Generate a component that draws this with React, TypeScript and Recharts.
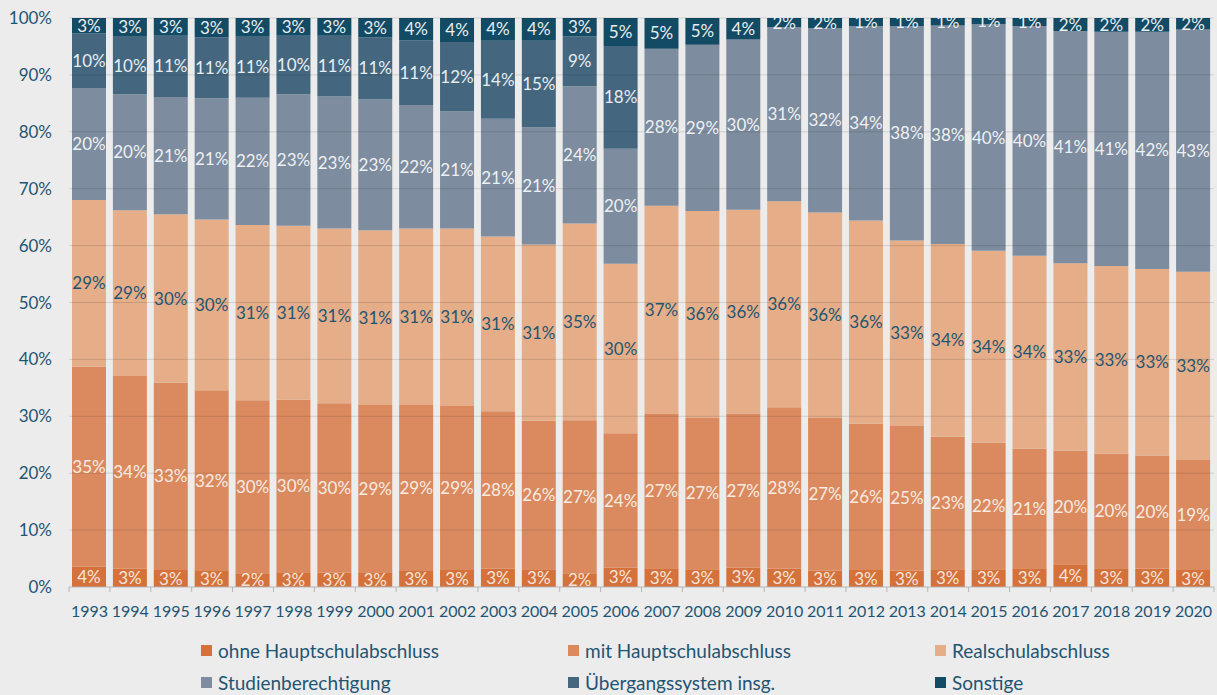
import React from 'react';
import { BarChart, Bar, XAxis, YAxis, LabelList, Legend, ReferenceLine } from 'recharts';

const years = ['1993','1994','1995','1996','1997','1998','1999','2000','2001','2002','2003','2004','2005','2006','2007','2008','2009','2010','2011','2012','2013','2014','2015','2016','2017','2018','2019','2020'];

const ohneHauptschul = [3.6,3.2,3.0,2.8,2.4,2.6,2.5,2.6,2.8,3.0,3.2,3.1,2.4,3.4,3.3,3.1,3.4,3.2,2.9,3.0,2.9,3.1,3.1,3.3,4.0,3.3,3.2,3.0];
const mitHauptschul = [35.1,33.9,32.9,31.8,30.4,30.3,29.8,29.4,29.2,28.8,27.7,26.1,26.9,23.6,27.1,26.7,27.1,28.4,26.9,25.7,25.4,23.3,22.3,21.0,20.0,20.1,19.9,19.3];
const realschul = [29.3,29.1,29.6,30.0,30.8,30.6,30.7,30.7,31.0,31.2,30.7,31.0,34.6,29.8,36.6,36.3,35.8,36.2,36.0,35.7,32.6,33.9,33.7,33.9,32.9,33.0,32.8,33.1];
const studien = [19.7,20.4,20.6,21.3,22.4,23.1,23.2,23.0,21.7,20.6,20.7,20.6,24.1,20.2,27.6,29.2,29.9,30.6,32.4,34.2,37.7,38.4,39.8,40.4,40.8,41.2,41.7,42.6];
const uebergang = [9.6,10.1,10.8,10.7,10.7,10.3,10.7,10.9,11.4,12.2,13.7,15.2,8.8,18.1,null,null,null,null,null,null,null,null,null,null,null,null,null,null];
const sonstige = [2.7,3.3,3.1,3.4,3.3,3.1,3.1,3.4,3.9,4.2,4.0,4.0,3.2,4.9,5.4,4.7,3.8,1.6,1.8,1.4,1.4,1.3,1.1,1.4,2.3,2.4,2.4,2.0];

const yTicks = [0,10,20,30,40,50,60,70,80,90,100];
const gridLines = [10,20,30,40,50,60,70,80,90,100];

const series = [
  { key: 'ohne', name: 'ohne Hauptschulabschluss', color: '#d5713a', text: '#f6e6db', values: ohneHauptschul },
  { key: 'mit', name: 'mit Hauptschulabschluss', color: '#db8a5f', text: '#f7ebe2', values: mitHauptschul },
  { key: 'real', name: 'Realschulabschluss', color: '#e5ae88', text: '#1f5573', values: realschul },
  { key: 'studien', name: 'Studienberechtigung', color: '#7d8c9e', text: '#eef1f4', values: studien },
  { key: 'ueber', name: 'Übergangssystem insg.', color: '#44677f', text: '#e8edf1', values: uebergang },
  { key: 'sonst', name: 'Sonstige', color: '#134a64', text: '#e8eef2', values: sonstige },
];

const data = years.map((year, i) => {
  const row: any = { year };
  series.forEach((s) => { row[s.key] = s.values[i]; });
  return row;
});

const FONT = 'Lato, "Noto Sans", sans-serif';
const TEXT = '#1f5573';

const XTick = (props: any) => {
  const { x, y, payload, index, visibleTicksCount } = props;
  const off = payload.offset || 0;
  return (
    <g>
      <line x1={x - off} x2={x - off} y1={y} y2={y + 5} stroke="#b5b5b5" />
      {index === visibleTicksCount - 1 && (
        <line x1={x + off} x2={x + off} y1={y} y2={y + 5} stroke="#b5b5b5" />
      )}
      <text x={x} y={y + 30} textAnchor="middle" fill={TEXT} fontSize={16} fontFamily={FONT}>
        {payload.value}
      </text>
    </g>
  );
};

const LegendContent = () => (
  <div style={{ position: 'relative', height: 68, fontFamily: FONT }}>
    {series.map((s, i) => {
      const col = i % 3;
      const row = Math.floor(i / 3);
      return (
        <div
          key={s.key}
          style={{
            position: 'absolute',
            left: 201 + col * 367,
            top: 2 + row * 32,
            height: 32,
            display: 'flex',
            alignItems: 'center',
            color: TEXT,
            fontSize: 19,
            whiteSpace: 'nowrap',
          }}
        >
          <span style={{ display: 'inline-block', width: 11, height: 11, background: s.color, marginRight: 6 }} />
          {s.name}
        </div>
      );
    })}
  </div>
);

export default function App() {
  return (
    <div style={{ position: 'absolute', left: 0, top: 0, width: 1217, height: 695, background: '#ececec', overflow: 'hidden' }}>
      <BarChart width={1217} height={695} data={data} margin={{ top: 18, right: 3, left: 7, bottom: 10 }} barSize={34}>
        <XAxis
          dataKey="year"
          interval={0}
          axisLine={{ stroke: '#b5b5b5' }}
          tickLine={false}
          tickSize={0}
          tickMargin={0}
          height={30}
          tick={<XTick />}
        />
        <YAxis
          domain={[0, 100]}
          ticks={yTicks}
          tickFormatter={(v: number) => `${v}%`}
          axisLine={false}
          tickLine={false}
          tickSize={6}
          tickMargin={11}
          width={62}
          tick={{ fill: TEXT, fontSize: 17, fontFamily: FONT }}
        />
        {series.map((s) => (
          <Bar key={s.key} dataKey={s.key} name={s.name} stackId="a" fill={s.color} isAnimationActive={false}>
            <LabelList
              dataKey={s.key}
              position="center"
              formatter={(v: any) => (v ? `${Math.round(v)}%` : '')}
              fill={s.text}
              style={{ fontSize: 17, fontFamily: FONT }}
            />
          </Bar>
        ))}
        {gridLines.map((g) => (
          <ReferenceLine key={g} y={g} stroke="#000" strokeOpacity={0.12} />
        ))}
        <Legend
          content={<LegendContent />}
          verticalAlign="bottom"
          height={68}
          wrapperStyle={{ top: 632, left: 0, width: 1217, height: 68 }}
        />
      </BarChart>
    </div>
  );
}
